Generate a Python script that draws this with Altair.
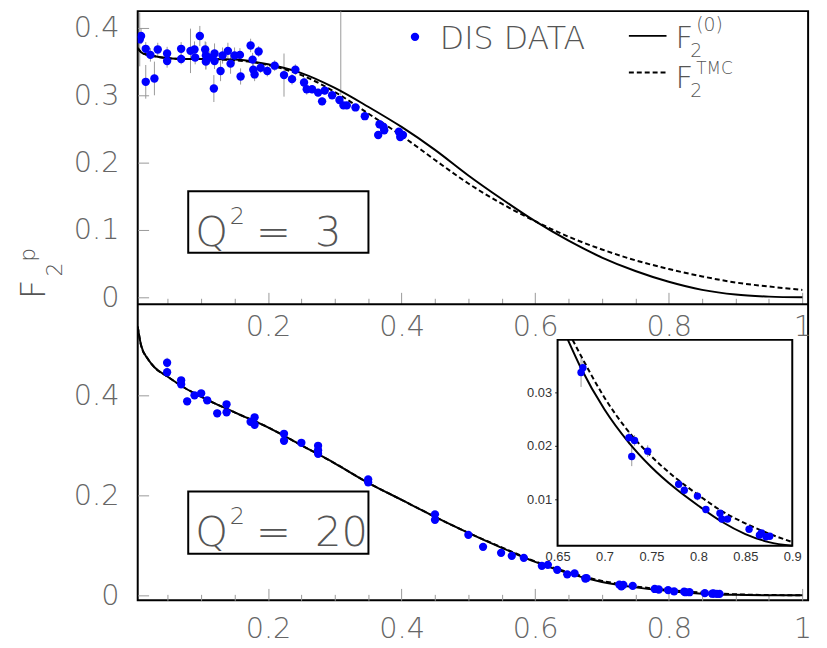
import altair as alt
import pandas as pd

# ---------------- data ----------------
# DIS data, Q^2 = 3  (x, F2, error)
q3_x = [0.008, 0.010, 0.017, 0.017, 0.024, 0.030, 0.035, 0.049, 0.049, 0.070, 0.070, 0.084,
        0.090, 0.091, 0.098, 0.106, 0.107, 0.107, 0.112, 0.119, 0.120, 0.120, 0.129, 0.132,
        0.140, 0.144, 0.150, 0.158, 0.159, 0.174, 0.177, 0.178, 0.180, 0.186, 0.189, 0.199,
        0.210, 0.224, 0.236, 0.241, 0.254, 0.258, 0.266, 0.275, 0.281, 0.285, 0.296, 0.307,
        0.309, 0.313, 0.318, 0.331, 0.345, 0.365, 0.367, 0.373, 0.374, 0.396, 0.398, 0.402]
q3_y = [0.383, 0.388, 0.369, 0.320, 0.360, 0.325, 0.368, 0.362, 0.351, 0.369, 0.354, 0.366,
        0.368, 0.356, 0.388, 0.368, 0.359, 0.350, 0.356, 0.310, 0.362, 0.351, 0.336, 0.359,
        0.366, 0.347, 0.359, 0.360, 0.328, 0.374, 0.353, 0.338, 0.331, 0.365, 0.341, 0.336,
        0.344, 0.330, 0.324, 0.338, 0.319, 0.309, 0.309, 0.304, 0.291, 0.307, 0.300, 0.293,
        0.500, 0.285, 0.285, 0.282, 0.269, 0.241, 0.257, 0.253, 0.248, 0.246, 0.238, 0.241]
q3_e = [0.040, 0.012, 0.010, 0.025, 0.010, 0.025, 0.010, 0.010, 0.010, 0.010, 0.008, 0.033,
        0.012, 0.010, 0.015, 0.012, 0.020, 0.012, 0.010, 0.020, 0.015, 0.012, 0.015, 0.012,
        0.012, 0.015, 0.012, 0.010, 0.012, 0.010, 0.010, 0.012, 0.010, 0.008, 0.008, 0.008,
        0.008, 0.032, 0.008, 0.008, 0.008, 0.008, 0.006, 0.006, 0.006, 0.006, 0.005, 0.005,
        0.200, 0.005, 0.005, 0.005, 0.005, 0.005, 0.005, 0.005, 0.005, 0.005, 0.005, 0.005]

# DIS data, Q^2 = 20
q20_x = [0.049, 0.049, 0.070, 0.070, 0.079, 0.090, 0.100, 0.109, 0.124, 0.138, 0.138, 0.174,
         0.180, 0.180, 0.224, 0.224, 0.250, 0.275, 0.275, 0.275, 0.350, 0.350, 0.450, 0.450,
         0.500, 0.522, 0.549, 0.565, 0.583, 0.610, 0.619, 0.633, 0.648, 0.659,
         0.675, 0.677, 0.726, 0.729, 0.732, 0.746, 0.779, 0.785, 0.799, 0.808, 0.823, 0.825,
         0.831, 0.854, 0.865, 0.867, 0.872, 0.876]
q20_y = [0.465, 0.446, 0.430, 0.422, 0.388, 0.400, 0.404, 0.390, 0.364, 0.382, 0.366, 0.347,
         0.356, 0.341, 0.323, 0.309, 0.305, 0.299, 0.290, 0.283, 0.232, 0.226, 0.162, 0.151,
         0.121, 0.097, 0.085, 0.079, 0.075, 0.059, 0.061, 0.051, 0.042, 0.044,
         0.0337, 0.0346, 0.0215, 0.0180, 0.0210, 0.0190, 0.0128, 0.0117, 0.0106, 0.0081, 0.0074, 0.0063,
         0.0063, 0.0044, 0.0033, 0.0037, 0.0030, 0.0031]
q20_e = [0.010, 0.008, 0.006, 0.006, 0.008, 0.005, 0.005, 0.005, 0.008, 0.005, 0.005, 0.006,
         0.005, 0.005, 0.005, 0.005, 0.004, 0.005, 0.004, 0.005, 0.004, 0.004, 0.004, 0.004,
         0.003, 0.003, 0.003, 0.003, 0.003, 0.003, 0.003, 0.003, 0.003, 0.003,
         0.0027, 0.0015, 0.0012, 0.0018, 0.0010, 0.0011, 0.0006, 0.0005, 0.0008, 0.0005, 0.0005, 0.0004,
         0.0004, 0.0003, 0.0003, 0.0003, 0.0003, 0.0003]

# curves, Q^2 = 3
c3_x = [0.005, 0.01, 0.02, 0.03, 0.05, 0.075, 0.1, 0.15, 0.2, 0.25, 0.3, 0.35, 0.4, 0.45,
        0.5, 0.55, 0.6, 0.65, 0.7, 0.75, 0.8, 0.85, 0.9, 0.95, 1.0]
c3_f0 = [0.370, 0.364, 0.360, 0.358, 0.355, 0.354, 0.354, 0.353, 0.346, 0.333, 0.311, 0.283, 0.253, 0.219,
         0.181, 0.146, 0.113, 0.084, 0.059, 0.039, 0.023, 0.011, 0.004, 0.001, 0.000]
c3_tmc = [0.370, 0.364, 0.360, 0.358, 0.355, 0.354, 0.354, 0.352, 0.345, 0.330, 0.305, 0.273, 0.240, 0.204,
          0.169, 0.139, 0.113, 0.090, 0.071, 0.055, 0.042, 0.031, 0.022, 0.016, 0.011]

# curves, Q^2 = 20
c20_x = [0.005, 0.01, 0.02, 0.03, 0.05, 0.075, 0.1, 0.15, 0.2, 0.25, 0.3, 0.35, 0.4, 0.45,
         0.5, 0.55, 0.6, 0.65, 0.7, 0.75, 0.8, 0.85, 0.9, 0.95, 1.0]
c20_f0 = [0.537, 0.500, 0.473, 0.456, 0.437, 0.415, 0.397, 0.366, 0.336, 0.300, 0.264, 0.225, 0.191, 0.157,
          0.125, 0.095, 0.067, 0.044, 0.0268, 0.016, 0.0088, 0.0034, 0.0010, 0.0002, 0.0]
c20_tmc = [0.537, 0.500, 0.473, 0.456, 0.437, 0.415, 0.397, 0.366, 0.336, 0.300, 0.264, 0.225, 0.191, 0.157,
           0.125, 0.096, 0.068, 0.046, 0.029, 0.018, 0.0108, 0.0056, 0.0021, 0.0007, 0.0002]

# inset curves (Q^2 = 20, large x)
ins_f0_x = [0.661, 0.675, 0.70, 0.725, 0.75, 0.775, 0.80, 0.825, 0.85, 0.875, 0.9]
ins_f0_y = [0.0398, 0.0345, 0.0268, 0.0208, 0.0160, 0.0121, 0.0088, 0.0058, 0.0035, 0.0020, 0.0013]
ins_tmc_x = [0.666, 0.675, 0.70, 0.725, 0.75, 0.775, 0.80, 0.825, 0.85, 0.875, 0.9]
ins_tmc_y = [0.0398, 0.0368, 0.0290, 0.0228, 0.0180, 0.0141, 0.0108, 0.0078, 0.0055, 0.0036, 0.0020]

# tick values
x_major = [0.2, 0.4, 0.6, 0.8, 1.0]
x_minor = [0.05, 0.1, 0.15, 0.25, 0.3, 0.35, 0.45, 0.5, 0.55, 0.65, 0.7, 0.75, 0.85, 0.9, 0.95]
y3_ticks = [0, 0.1, 0.2, 0.3, 0.4]
y20_ticks = [0, 0.2, 0.4]
ins_x_ticks = [0.65, 0.7, 0.75, 0.8, 0.85, 0.9]
ins_y_ticks = [0.01, 0.02, 0.03]

# ---------------- layout ----------------
W, H, TOP_H = 677, 595, 296
XDOM = [0.005, 1.0086]
Y3DOM, Y3RNG = [-0.0103, 0.425], [TOP_H, 0]
Y20DOM, Y20RNG = [-0.0099, 0.582], [H, TOP_H]
IXDOM, IXRNG = [0.65, 0.9], [424, 661]
IYDOM, IYRNG = [0.0013, 0.0398], [540, 332]

BLUE = "#0000ff"
GRAY = "#999999"
TXT = "#555555"
FW = 200


def sc(dom, rng):
    return alt.Scale(domain=dom, range=rng, zero=False, nice=False)


def X(field, dom, rng, axis):
    return alt.X(field, type="quantitative", scale=sc(dom, rng), axis=axis)


def Y(field, dom, rng, axis):
    return alt.Y(field, type="quantitative", scale=sc(dom, rng), axis=axis)


def pts(xs, ys, es):
    d = pd.DataFrame({"x": xs, "y": ys, "e": es})
    d["lo"] = d["y"] - d["e"]
    d["hi"] = d["y"] + d["e"]
    return d


def curve(xs, ys):
    return pd.DataFrame({"x": xs, "y": ys})


d3 = pts(q3_x, q3_y, q3_e)
d20 = pts(q20_x, q20_y, q20_e)
d20_ins = d20[d20["x"] >= 0.67]
dummy = pd.DataFrame({"k": [0]})

ax_common = dict(title=None, domain=False, grid=False, labelFlush=False, labelOverlap=False)

# ----- axes -----
ax_top_minor = alt.Axis(orient="bottom", offset=-(H - TOP_H) - 6, tickSize=6, values=x_minor,
                        labels=False, **ax_common)
ax_top_major = alt.Axis(orient="bottom", offset=-(H - TOP_H) - 12, tickSize=12, values=x_major,
                        labels=False, **ax_common)
ax_top_labels = alt.Axis(orient="bottom", offset=-(H - TOP_H), ticks=False, tickSize=0,
                         values=x_major, format="~g", labelPadding=9, labelBaseline="top", **ax_common)
ax_y3 = alt.Axis(orient="left", offset=-11, tickSize=11, values=y3_ticks, format="~g",
                 labelPadding=19, **ax_common)
ax_bot_minor = alt.Axis(orient="bottom", offset=-6, tickSize=6, values=x_minor, labels=False, **ax_common)
ax_bot_major = alt.Axis(orient="bottom", offset=-12, tickSize=12, values=x_major, format="~g",
                        labelPadding=15, labelBaseline="top", **ax_common)
ax_y20 = alt.Axis(orient="left", offset=-11, tickSize=11, values=y20_ticks, format="~g",
                  labelPadding=19, **ax_common)
ax_ins_x = alt.Axis(orient="bottom", offset=IYRNG[0] - H, ticks=False, tickSize=0, values=ins_x_ticks,
                    format="~g", labelPadding=5, labelFont="Liberation Sans", labelFontSize=13,
                    labelFontWeight="normal", labelColor="#333333", labelBaseline="top", **ax_common)
ax_ins_y = alt.Axis(orient="left", offset=-IXRNG[0], tickSize=3, values=ins_y_ticks, format="~g",
                    labelPadding=3, labelFont="Liberation Sans", labelFontSize=13,
                    labelFontWeight="normal", labelColor="#333333", tickColor="#333333", **ax_common)

layers = []

# ----- top panel (Q^2 = 3) -----
layers.append(alt.Chart(d3).mark_rule(color=GRAY, strokeWidth=1, clip=True).encode(
    x=X("x", XDOM, [0, W], ax_top_minor), y=Y("lo", Y3DOM, Y3RNG, None), y2="hi"))
layers.append(alt.Chart(curve(c3_x, c3_tmc)).mark_line(color="black", strokeWidth=2, strokeDash=[5, 3],
                                                       interpolate="monotone", clip=True).encode(
    x=X("x", XDOM, [0, W], None), y=Y("y", Y3DOM, Y3RNG, None)))
layers.append(alt.Chart(curve(c3_x, c3_f0)).mark_line(color="black", strokeWidth=2,
                                                      interpolate="monotone", clip=True).encode(
    x=X("x", XDOM, [0, W], ax_top_labels), y=Y("y", Y3DOM, Y3RNG, None)))
layers.append(alt.Chart(d3).mark_circle(color=BLUE, opacity=1, size=72, clip=True).encode(
    x=X("x", XDOM, [0, W], ax_top_major), y=Y("y", Y3DOM, Y3RNG, ax_y3)))

# ----- bottom panel (Q^2 = 20) -----
layers.append(alt.Chart(d20).mark_rule(color=GRAY, strokeWidth=1, clip=True).encode(
    x=X("x", XDOM, [0, W], ax_bot_minor), y=Y("lo", Y20DOM, Y20RNG, None), y2="hi"))
layers.append(alt.Chart(curve(c20_x, c20_tmc)).mark_line(color="black", strokeWidth=2, strokeDash=[5, 3],
                                                         interpolate="monotone", clip=True).encode(
    x=X("x", XDOM, [0, W], None), y=Y("y", Y20DOM, Y20RNG, None)))
layers.append(alt.Chart(curve(c20_x, c20_f0)).mark_line(color="black", strokeWidth=2,
                                                        interpolate="monotone", clip=True).encode(
    x=X("x", XDOM, [0, W], None), y=Y("y", Y20DOM, Y20RNG, None)))
layers.append(alt.Chart(d20).mark_circle(color=BLUE, opacity=1, size=70, clip=True).encode(
    x=X("x", XDOM, [0, W], ax_bot_major), y=Y("y", Y20DOM, Y20RNG, ax_y20)))

# boundary between panels
layers.append(alt.Chart(dummy).mark_rule(color="black", strokeWidth=2).encode(
    x=alt.value(0), x2=alt.value(W), y=alt.value(TOP_H)))

# ----- inset -----
layers.append(alt.Chart(dummy).mark_rect(fill="white", stroke="black", strokeWidth=2).encode(
    x=alt.value(IXRNG[0]), x2=alt.value(IXRNG[1]), y=alt.value(IYRNG[1]), y2=alt.value(IYRNG[0])))
layers.append(alt.Chart(d20_ins).mark_rule(color=GRAY, strokeWidth=1).encode(
    x=X("x", IXDOM, IXRNG, None), y=Y("lo", IYDOM, IYRNG, None), y2="hi"))
layers.append(alt.Chart(curve(ins_tmc_x, ins_tmc_y)).mark_line(color="black", strokeWidth=2,
                                                               strokeDash=[5, 3], interpolate="monotone").encode(
    x=X("x", IXDOM, IXRNG, None), y=Y("y", IYDOM, IYRNG, None)))
layers.append(alt.Chart(curve(ins_f0_x, ins_f0_y)).mark_line(color="black", strokeWidth=2,
                                                             interpolate="monotone").encode(
    x=X("x", IXDOM, IXRNG, ax_ins_x), y=Y("y", IYDOM, IYRNG, ax_ins_y)))
layers.append(alt.Chart(d20_ins).mark_circle(color=BLUE, opacity=1, size=56).encode(
    x=X("x", IXDOM, IXRNG, None), y=Y("y", IYDOM, IYRNG, None)))


# ----- annotations -----
def txt(s, x, y, size, align="left", baseline="alphabetic", angle=0, color=TXT, font="DejaVu Sans"):
    kw = dict(text=s, font=font, fontSize=size, color=color, align=align, baseline=baseline,
              fontWeight=FW)
    if angle:
        kw["angle"] = angle
    return alt.Chart(dummy).mark_text(**kw).encode(x=alt.value(x), y=alt.value(y))


# legend
layers.append(alt.Chart(dummy).mark_circle(color=BLUE, opacity=1, size=72).encode(
    x=alt.value(280), y=alt.value(26)))
layers.append(txt("DIS DATA", 305, 38, 32))
layers.append(alt.Chart(dummy).mark_rule(color="black", strokeWidth=2).encode(
    x=alt.value(496), x2=alt.value(534), y=alt.value(25)))
layers.append(txt("F", 543, 37, 31))
layers.append(txt("2", 558, 46, 19))
layers.append(txt("(0)", 564, 20, 19))
layers.append(alt.Chart(dummy).mark_rule(color="black", strokeWidth=2, strokeDash=[5, 3]).encode(
    x=alt.value(496), x2=alt.value(534), y=alt.value(62)))
layers.append(txt("F", 543, 78, 31))
layers.append(txt("2", 558, 87, 19))
layers.append(txt("TMC", 564, 63, 17))

# Q^2 boxes
for (y0, y1, base, label) in [(182, 244, 237, "3"), (485, 548, 540, "20")]:
    layers.append(alt.Chart(dummy).mark_rect(fill="white", stroke="black", strokeWidth=2).encode(
        x=alt.value(51), x2=alt.value(233), y=alt.value(y0), y2=alt.value(y1)))
    layers.append(txt("Q", 58, base, 42))
    layers.append(txt("2", 93, base - 22, 24))
    layers.append(txt("=", 137, base, 42, align="center"))
    layers.append(txt(label, 179, base, 42))

# y-axis title F_2^p (rotated)
layers.append(txt("F", -104, 281, 34, align="center", baseline="middle", angle=270))
layers.append(txt("2", -83, 261, 22, align="center", baseline="middle", angle=270))
layers.append(txt("p", -111, 246, 22, align="center", baseline="middle", angle=270))

chart = alt.layer(*layers).resolve_scale(x="independent", y="independent").properties(
    width=W, height=H,
    autosize=alt.AutoSizeParams(type="none"),
    padding={"left": 131, "top": 0, "right": 11, "bottom": 45},
).configure_view(stroke="black", strokeWidth=2).configure_axis(
    labelFont="DejaVu Sans", labelFontSize=29, labelColor="#666666", labelFontWeight=FW,
    tickColor=GRAY, tickWidth=1, grid=False, domain=False,
)

chart.save("out.html", embed_options={"renderer": "svg", "actions": False})
